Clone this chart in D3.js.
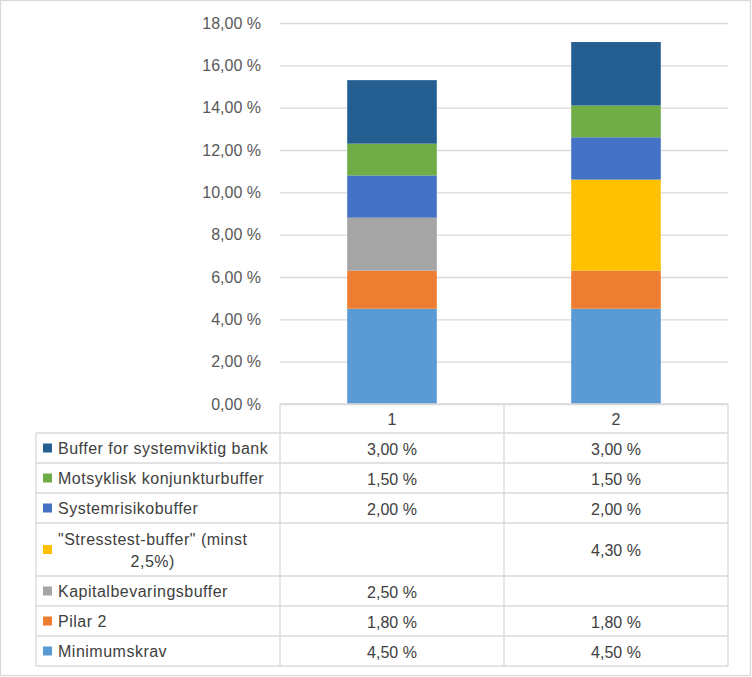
<!DOCTYPE html>
<html><head><meta charset="utf-8">
<script src="https://cdn.jsdelivr.net/npm/d3@7"></script>
<style>html,body{margin:0;padding:0;background:#fff;}svg{display:block;}</style>
</head><body>
<script>
// ---- data ----
const categories = ["1", "2"];
const seriesNames = ["Minimumskrav", "Pilar 2", "Kapitalbevaringsbuffer", "\"Stresstest-buffer\" (minst 2,5%)", "Systemrisikobuffer", "Motsyklisk konjunkturbuffer", "Buffer for systemviktig bank"];
const seriesColors = ["#5B9BD5", "#ED7D31", "#A5A5A5", "#FFC000", "#4472C4", "#70AD47", "#255E91"];
const valuesCat1 = [4.5, 1.8, 2.5, null, 2.0, 1.5, 3.0];
const valuesCat2 = [4.5, 1.8, null, 4.3, 2.0, 1.5, 3.0];
const yTicks = [0, 2, 4, 6, 8, 10, 12, 14, 16, 18];
// table row order (top to bottom) = reverse of stacking order
const tableOrder = [6, 5, 4, 3, 2, 1, 0];
const labelLines = {3: ["\"Stresstest-buffer\" (minst", "2,5%)"]};

const W = 752, H = 677;
const font = "'Liberation Sans', Arial, sans-serif";
const textColor = "#404040";
const gridColor = "#d9d9d9";

const locale = d3.formatLocale({decimal: ",", thousands: " ", grouping: [3], currency: ["", ""]});
const fmt = v => locale.format(".2f")(v) + " %";

const svg = d3.select("body").append("svg").attr("width", W).attr("height", H);

svg.append("rect").attr("x", 0.5).attr("y", 0.5).attr("width", 750).attr("height", 675)
  .attr("fill", "#fff").attr("stroke", gridColor).attr("stroke-width", 1.3);

const x = d3.scaleBand().domain(categories).range([280, 728]).paddingInner(0.6).paddingOuter(0.3);
const y = d3.scaleLinear().domain([0, 18]).range([404, 23]);

// gridlines + y labels via axis
const yAxis = d3.axisLeft(y).tickValues(yTicks).tickFormat(fmt).tickSize(-(728 - 280)).tickPadding(19);
const gy = svg.append("g").attr("transform", "translate(280,0)").call(yAxis);
gy.select(".domain").remove();
gy.selectAll(".tick line").attr("stroke", gridColor).attr("stroke-width", 1.3);
gy.selectAll(".tick text").attr("fill", "#595959").style("font-family", font).style("font-size", "16px");

// stacked data
const rows = categories.map((c, i) => {
  const o = {cat: c};
  seriesNames.forEach((s, k) => { o[s] = (i === 0 ? valuesCat1 : valuesCat2)[k] || 0; });
  return o;
});
const stack = d3.stack().keys(seriesNames)(rows);
svg.append("g").selectAll("g").data(stack).join("g")
  .attr("fill", (d, i) => seriesColors[i])
  .selectAll("rect").data(d => d).join("rect")
  .attr("x", d => x(d.data.cat))
  .attr("width", x.bandwidth())
  .attr("y", d => y(d[1]))
  .attr("height", d => y(d[0]) - y(d[1]));

// ---- data table ----
const colEdges = [280, 280 + x.step(), 728];
const legendLeft = 36;
const headerTop = 404, headerBottom = 433;
const rowHeights = tableOrder.map(k => labelLines[k] ? 53 : 30);
const rowTops = [];
let acc = headerBottom;
rowHeights.forEach(h => { rowTops.push(acc); acc += h; });
const tableBottom = acc;

const tg = svg.append("g");
const line = (x1, y1, x2, y2) => tg.append("line").attr("x1", x1).attr("y1", y1).attr("x2", x2).attr("y2", y2)
  .attr("stroke", gridColor).attr("stroke-width", 1.3);
line(280, headerTop, 728, headerTop);
colEdges.forEach(cx => line(cx, headerTop, cx, tableBottom));
line(legendLeft, headerBottom, legendLeft, tableBottom);
line(legendLeft, headerBottom, 728, headerBottom);
rowTops.forEach((t, i) => line(legendLeft, t + rowHeights[i], 728, t + rowHeights[i]));

const valStyle = s => s.attr("fill", textColor).style("font-family", font).style("font-size", "16px");
const labStyle = s => s.attr("fill", textColor).style("font-family", font).style("font-size", "16px").style("letter-spacing", "0.5px");

categories.forEach((c, i) => {
  tg.append("text").attr("x", x(c) + x.bandwidth() / 2).attr("y", (headerTop + headerBottom) / 2 + 6)
    .attr("text-anchor", "middle").call(valStyle).text(c);
});

tableOrder.forEach((k, r) => {
  const top = rowTops[r], h = rowHeights[r], cy = top + h / 2;
  tg.append("rect").attr("x", 43).attr("y", cy - 4.5).attr("width", 9).attr("height", 9).attr("fill", seriesColors[k]);
  const lines = labelLines[k] || [seriesNames[k]];
  if (lines.length === 1) {
    tg.append("text").attr("x", 58).attr("y", cy + 6).call(labStyle).text(lines[0]);
  } else {
    const t1 = tg.append("text").attr("x", 58).attr("y", cy - 5).call(labStyle).text(lines[0]);
    const w1 = t1.node().getComputedTextLength();
    tg.append("text").attr("x", 58 + w1 / 2).attr("y", cy + 17).attr("text-anchor", "middle").call(labStyle).text(lines[1]);
  }
  [valuesCat1, valuesCat2].forEach((vals, ci) => {
    const v = vals[k];
    if (v == null) return;
    tg.append("text").attr("x", x(categories[ci]) + x.bandwidth() / 2).attr("y", cy + 6.5)
      .attr("text-anchor", "middle").call(valStyle).text(fmt(v));
  });
});
</script>
</body></html>
